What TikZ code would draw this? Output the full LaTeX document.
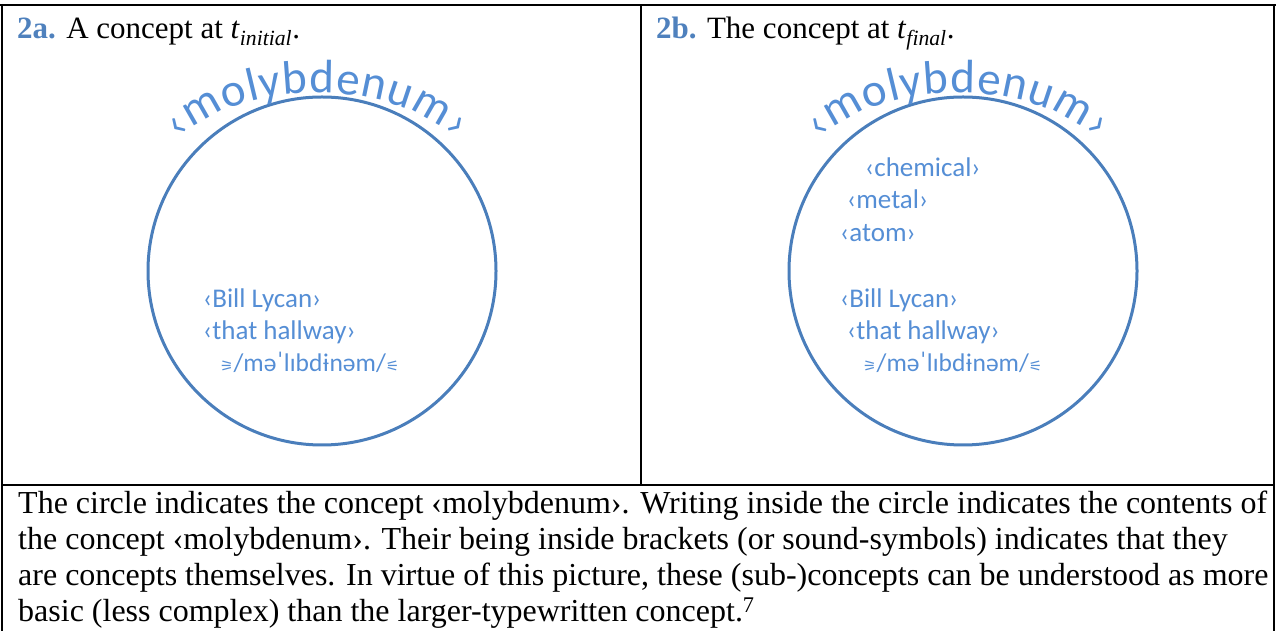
\documentclass[tikz,border=0pt]{standalone}
\usepackage{fontspec}
\setmainfont{Liberation Serif}
\newfontfamily\calib{Carlito}
\newfontfamily\symfont{DejaVu Sans}
\usetikzlibrary{decorations.text,calc}
\definecolor{hdblue}{HTML}{4F81BD}
\definecolor{circblue}{HTML}{4A7EBB}
\definecolor{txtblue}{HTML}{558ED5}
\newcommand{\sndL}{{\symfont\fontsize{15}{15}\selectfont ⚞}}
\newcommand{\sndR}{{\symfont\fontsize{15}{15}\selectfont ⚟}}
\begin{document}
\begin{tikzpicture}[x=1pt,y=1pt,
  rule/.style={line width=2.2pt, black},
  concept/.style={draw=circblue, line width=3pt, circle, minimum size=348pt, inner sep=0pt},
  inner/.style={font=\calib\fontsize{27}{32}\selectfont, text=txtblue, anchor=base west, inner sep=0pt},
  ipa/.style={inner, font=\calib\fontsize{25.5}{32}\selectfont},
  head/.style={font=\fontsize{31}{36}\selectfont, anchor=base west, inner sep=0pt},
  captline/.style={font=\fontsize{32}{36}\selectfont, anchor=base west, inner sep=0pt},
  archtext/.style={decorate, decoration={text along path, text color=txtblue, text align={fit to path},
    text={|\calib\fontsize{47}{50}\selectfont|‹molybdenum›}}}]
\useasboundingbox (0,0) rectangle (1276,631);
% table rules
\draw[rule] (0,626) -- (1276,626);
\draw[rule] (2,627) -- (2,0);
\draw[rule] (1274,627) -- (1274,0);
\draw[rule] (641,626) -- (641,146);
\draw[rule] (2,146) -- (1274,146);
% headers
\node[head] (h1) at (17,592) {\textcolor{hdblue}{\textbf{2a.}} A concept at \textit{t}\textsubscript{\textit{initial}}.};
\node[head] (h2) at (656,592) {\textcolor{hdblue}{\textbf{2b.}} The concept at \textit{t}\textsubscript{\textit{final}}.};
% circles
\node[concept] (c1) at (322,360) {};
\node[concept] (c2) at (963,360) {};
% arched titles
\path[archtext] ($(c1.center)+(-5,100)+(157:148 and 78)$) arc [start angle=157, end angle=23, x radius=148, y radius=78];
\path[archtext] ($(c2.center)+(-5,100)+(157:148 and 78)$) arc [start angle=157, end angle=23, x radius=148, y radius=78];
% contents left
\node[inner] (l1) at (203,323) {‹Bill Lycan›};
\node[inner] (l2) at (203,291) {‹that hallway›};
\node[ipa] (l3) at (220,259) {\sndL/məˈlɪbdɨnəm/\sndR};
% contents right
\node[inner] (r1) at (865,454) {‹chemical›};
\node[inner] (r2) at (847,422) {‹metal›};
\node[inner] (r3) at (840,389) {‹atom›};
\node[inner] (r4) at (840,323) {‹Bill Lycan›};
\node[inner] (r5) at (847,291) {‹that hallway›};
\node[ipa] (r6) at (863,259) {\sndL/məˈlɪbdɨnəm/\sndR};
% caption
\node[captline] (k1) at (18,117) {The circle indicates the concept ‹molybdenum›. Writing inside the circle indicates the contents of};
\node[captline] (k2) at (18,81) {the concept ‹molybdenum›. Their being inside brackets (or sound-symbols) indicates that they};
\node[captline] (k3) at (18,45) {are concepts themselves. In virtue of this picture, these (sub-)concepts can be understood as more};
\node[captline] (k4) at (18,9) {basic (less complex) than the larger-typewritten concept.\textsuperscript{7}};
\end{tikzpicture}
\end{document}
